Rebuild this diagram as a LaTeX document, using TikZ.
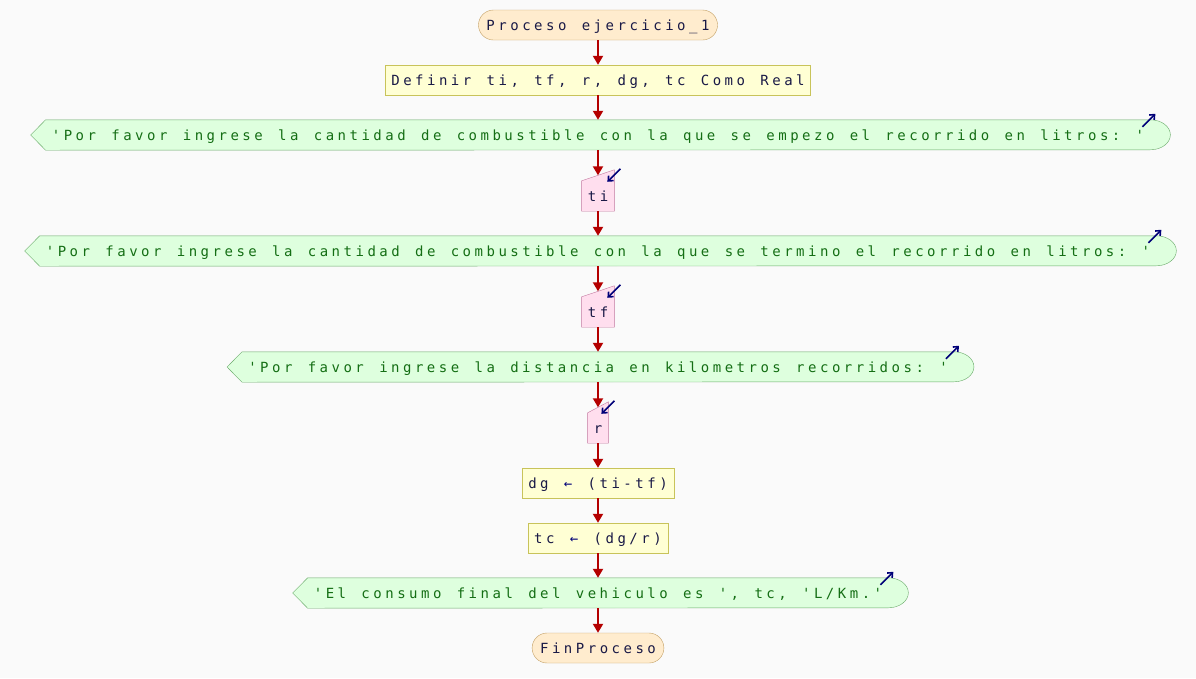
\documentclass[tikz,border=0pt]{standalone}
\usepackage{fontspec}
\usepackage{tikz}
\usetikzlibrary{arrows.meta}
\setmonofont{DejaVu Sans Mono}[LetterSpace=25.0,WordSpace={1.285,0,0}]
\definecolor{pagebg}{RGB}{250,250,250}
\definecolor{flowred}{RGB}{180,0,0}
\definecolor{iconblue}{RGB}{0,0,120}
\definecolor{inktext}{RGB}{25,25,70}
\definecolor{outtext}{RGB}{20,110,20}
\definecolor{termfill}{RGB}{255,236,206}
\definecolor{termline}{RGB}{195,160,100}
\definecolor{procfill}{RGB}{255,255,212}
\definecolor{procline}{RGB}{200,195,90}
\definecolor{outfill}{RGB}{222,255,222}
\definecolor{outline}{RGB}{105,170,105}
\definecolor{infill}{RGB}{255,222,238}
\definecolor{inline}{RGB}{195,120,160}
\pgfdeclarelayer{back}
\pgfsetlayers{back,main}

% output block: arrow tip on the left, bulge on the right
\newcommand{\outbox}[1]{%
  \begin{pgfonlayer}{back}
    \draw[outshape] ([xshift=-15pt]#1.west) -- (#1.north west) -- (#1.north east)
      arc[start angle=90,end angle=-90,x radius=20pt,y radius=15pt] -- (#1.south west) -- cycle;
  \end{pgfonlayer}
  \draw[icon] ([xshift=-8pt,yshift=-7pt]#1.north east) -- ([xshift=5pt,yshift=6pt]#1.north east);}

% input block: slanted top
\newcommand{\inbox}[1]{%
  \begin{pgfonlayer}{back}
    \draw[inshape] (#1.south west) -- (#1.south east) -- ([yshift=11pt]#1.north east) -- (#1.north west) -- cycle;
  \end{pgfonlayer}
  \coordinate (#1in) at ([yshift=5.5pt]#1.north);
  \draw[icon] ([xshift=6pt,yshift=12pt]#1.north east) -- ([xshift=-7pt,yshift=-1pt]#1.north east);}

\tikzset{
  blk/.style={font=\ttfamily\fontsize{14}{16}\selectfont,minimum height=30pt,inner xsep=6pt,inner ysep=0pt,
    text height=12pt,text depth=2pt,text=inktext},
  term/.style={blk,draw=termline,fill=termfill,rounded corners=15pt,inner xsep=8pt},
  proc/.style={blk,draw=procline,fill=procfill},
  outtxt/.style={blk,text=outtext},
  intxt/.style={blk},
  outshape/.style={draw=outline,fill=outfill},
  inshape/.style={draw=inline,fill=infill},
  icon/.style={draw=iconblue,line width=1.6pt,-{Straight Barb[length=4pt,width=7pt]}},
  flow/.style={draw=flowred,line width=2pt,-{Triangle[length=9pt,width=10pt]}}
}

\begin{document}
\begin{tikzpicture}[x=1pt,y=1pt]
  \begin{pgfonlayer}{back}
    \fill[pagebg] (0,0) rectangle (1196,-678);
  \end{pgfonlayer}
  \useasboundingbox (0,0) rectangle (1196,-678);

  \node[term] (start) at (598,-25) {Proceso ejercicio\_1};
  \node[proc] (def) at (598,-80) {Definir ti, tf, r, dg, tc Como Real};
  \node[outtxt] (out1) at (598,-135) {'Por favor ingrese la cantidad de combustible con la que se empezo el recorrido en litros: '};
  \node[intxt] (ti) at (598,-196) {ti};
  \node[outtxt] (out2) at (598,-251) {'Por favor ingrese la cantidad de combustible con la que se termino el recorrido en litros: '};
  \node[intxt] (tf) at (598,-312) {tf};
  \node[outtxt] (out3) at (598,-367) {'Por favor ingrese la distancia en kilometros recorridos: '};
  \node[intxt] (r) at (598,-428) {r};
  \node[proc] (dg) at (598,-483) {dg {\color{iconblue}←} (ti-tf)};
  \node[proc] (tc) at (598,-538) {tc {\color{iconblue}←} (dg/r)};
  \node[outtxt] (out4) at (598,-593) {'El consumo final del vehiculo es ', tc, 'L/Km.'};
  \node[term] (finish) at (598,-648) {FinProceso};

  \outbox{out1}
  \outbox{out2}
  \outbox{out3}
  \outbox{out4}
  \inbox{ti}
  \inbox{tf}
  \inbox{r}

  \foreach \from/\to in {start.south/def.north,def.south/out1.north,out1.south/tiin,ti.south/out2.north,out2.south/tfin,tf.south/out3.north,out3.south/rin,r.south/dg.north,dg.south/tc.north,tc.south/out4.north,out4.south/finish.north}
    \draw[flow] (\from) -- (\to);
\end{tikzpicture}
\end{document}
